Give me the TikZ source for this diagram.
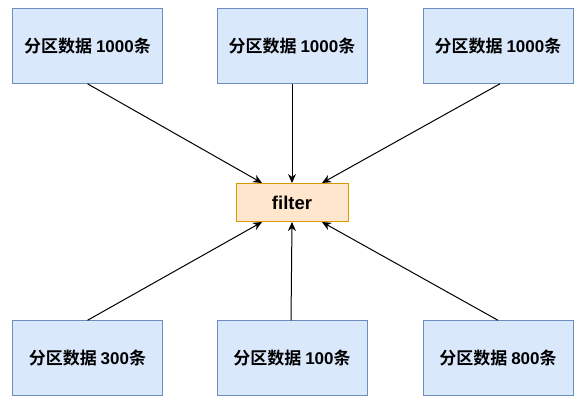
\documentclass[tikz,border=0pt]{standalone}
\usepackage{fontspec}
\setmainfont{Liberation Sans}
\newfontfamily\cjk{Noto Sans CJK SC}[BoldFont={* Bold}]
\usetikzlibrary{arrows.meta,calc}
\begin{document}
\begin{tikzpicture}[x=1pt,y=-1pt,
  part/.style={draw={rgb,255:red,108;green,142;blue,191}, fill={rgb,255:red,218;green,232;blue,252}, line width=1pt, minimum width=150pt, minimum height=75pt, inner sep=0pt, font=\fontsize{17pt}{19pt}\selectfont\bfseries},
  filt/.style={draw={rgb,255:red,215;green,155;blue,0}, fill={rgb,255:red,255;green,230;blue,204}, line width=1pt, minimum width=112pt, minimum height=38pt, inner sep=0pt, font=\fontsize{18.5pt}{20pt}\selectfont\bfseries},
  conn/.style={line width=1pt, -{Stealth[length=9pt,width=8pt]}}]
\useasboundingbox (0,0) rectangle (588,407);
\node[part] (t1) at (87.5,45.8) {\cjk 分区数据 \rmfamily 1000\cjk 条};
\node[part] (t2) at (292,45.8) {\cjk 分区数据 \rmfamily 1000\cjk 条};
\node[part] (t3) at (498,45.8) {\cjk 分区数据 \rmfamily 1000\cjk 条};
\node[part] (b1) at (87.5,358.3) {\cjk 分区数据 \rmfamily 300\cjk 条};
\node[part] (b2) at (292,358.3) {\cjk 分区数据 \rmfamily 100\cjk 条};
\node[part] (b3) at (498,358.3) {\cjk 分区数据 \rmfamily 800\cjk 条};
\node[filt] (f) at (292,202.5) {filter};
\draw[conn] (t1.south) -- ($(f.north)+(-30,0)$);
\draw[conn] (t2.south) -- (f.north);
\draw[conn] ($(t3.south)+(2,0)$) -- ($(f.north)+(30,0)$);
\draw[conn] (b1.north) -- ($(f.south)+(-30,0)$);
\draw[conn] ($(b2.north)+(-1,0)$) -- (f.south);
\draw[conn] (b3.north) -- ($(f.south)+(30,0)$);
\end{tikzpicture}
\end{document}
